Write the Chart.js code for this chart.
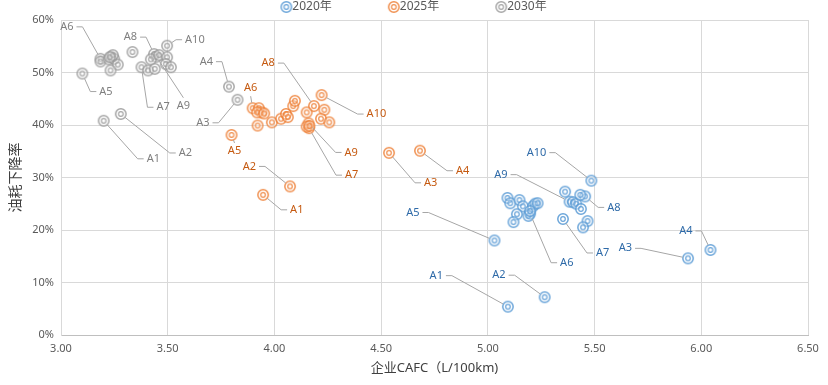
<!DOCTYPE html>
<html>
<head>
<meta charset="utf-8">
<script src="https://cdn.jsdelivr.net/npm/chart.js@4.4.1/dist/chart.umd.min.js"></script>
<style>
  html,body{margin:0;padding:0;background:#fff;}
  #wrap{width:828px;height:385px;position:relative;}
</style>
</head>
<body>
<div id="wrap"><canvas id="c" width="828" height="385"></canvas></div>
<script>
// ---- data ----
const seriesNames = ['2020年', '2025年', '2030年'];
const labelNames = ['A1','A2','A3','A4','A5','A6','A7','A8','A9','A10'];
const xTitle = '企业CAFC（L/100km)';
const yTitle = '油耗下降率';

// first ten points of each series are A1..A10
const cafc2020 = [5.094,5.266,5.938,6.043,5.031,5.198,5.352,5.456,5.383,5.485,
                  5.092,5.105,5.148,5.164,5.136,5.120,5.190,5.211,5.222,5.233,5.198,5.362,5.399,5.414,5.433,5.436,5.467,5.446];
const drop2020 = [5.4,7.2,14.6,16.2,18.0,23.1,22.1,26.4,25.4,29.4,
                  26.1,25.1,25.7,24.5,23.0,21.5,22.7,24.5,25.0,25.1,23.6,27.3,25.3,25.0,26.7,24.0,21.7,20.5];

const cafc2025 = [3.947,4.073,4.537,4.682,3.799,3.898,4.162,4.185,4.160,4.221,
                  3.927,3.940,3.919,3.952,3.921,3.988,4.031,4.054,4.063,4.088,4.096,4.151,4.234,4.218,4.257,4.151,4.164];
const drop2025 = [26.7,28.3,34.7,35.1,38.1,43.2,39.4,43.6,40.3,45.7,
                  43.2,42.4,42.4,42.2,39.9,40.5,41.2,42.1,41.5,43.6,44.6,42.4,42.9,41.2,40.5,39.7,39.8];

const cafc2030 = [3.200,3.280,3.827,3.787,3.100,3.185,3.377,3.436,3.447,3.497,
                  3.185,3.236,3.224,3.249,3.243,3.228,3.266,3.232,3.335,3.408,3.439,3.421,3.460,3.497,3.491,3.515];
const drop2030 = [40.8,42.1,44.8,47.3,49.8,52.6,51.0,53.5,53.0,55.1,
                  52.1,53.0,52.5,52.6,53.3,52.9,51.5,50.4,53.9,50.4,50.7,52.5,53.3,52.9,51.6,51.0];

// ---- label leader offsets (pixels from point to elbow) and text side ----
const labelPos2020 = [[-56,-31,'l'],[-30,-22,'l'],[-47,-10,'l'],[-9,-19,'l'],[-66,-28,'l'],[21,49,'r'],[24,34,'r'],[13,11,'r'],[-53,-27,'l'],[-36,-28,'l']];
const labelPos2025 = [[18,15,'r'],[-25,-20,'l'],[26,30,'r'],[27,20,'r'],[3,8,'b'],[-2,-12,'t'],[27,47,'r'],[-30,-43,'l'],[27,29,'r'],[36,19,'r']];
const labelPos2030 = [[34,38,'r'],[49,39,'r'],[-19,23,'l'],[-7,-25,'l'],[8,18,'r'],[-18,-32,'l'],[6,40,'r'],[-8,-17,'l'],[27,41,'b'],[9,-6,'r']];

// ---- styles ----
const markerColors = ['rgba(91,155,213,0.9)', 'rgba(237,125,49,0.85)', 'rgba(150,150,150,0.85)'];
const textColors = ['#2e6aa8', '#c55a11', '#7f7f7f'];
const FONT = "'Noto Sans', 'Noto Sans CJK SC', sans-serif";

function ring(color) {
  const c = document.createElement('canvas');
  c.width = 14; c.height = 14;
  const g = c.getContext('2d');
  g.strokeStyle = color;
  g.fillStyle = 'rgba(255,255,255,0.35)';
  g.lineWidth = 1.5;
  g.beginPath(); g.arc(7, 7, 5.2, 0, Math.PI * 2); g.fill(); g.stroke();
  g.lineWidth = 1.2;
  g.beginPath(); g.arc(7, 7, 2.3, 0, Math.PI * 2); g.stroke();
  return c;
}
const rings = markerColors.map(ring);

function pts(xs, ys) { return xs.map((x, i) => ({x: x, y: ys[i]})); }

const allPos = [labelPos2020, labelPos2025, labelPos2030];

const labelPlugin = {
  id: 'leaderLabels',
  afterDatasetsDraw(chart) {
    const ctx = chart.ctx;
    ctx.save();
    ctx.font = '11px ' + FONT;
    chart.data.datasets.forEach((ds, di) => {
      const meta = chart.getDatasetMeta(di);
      const pos = allPos[di];
      labelNames.forEach((name, k) => {
        const el = meta.data[k];
        if (!el) return;
        const px = el.x, py = el.y;
        const [dx, dy, mode] = pos[k];
        const ex = px + dx, ey = py + dy;
        const len = Math.hypot(dx, dy);
        const sx = px + dx / len * 5.5, sy = py + dy / len * 5.5;
        ctx.strokeStyle = '#a6a6a6';
        ctx.lineWidth = 1;
        ctx.beginPath();
        ctx.moveTo(sx, sy);
        ctx.lineTo(ex, ey);
        let tx, ty, align;
        if (mode === 'l') {
          ctx.lineTo(ex - 6, ey);
          tx = ex - 9; ty = ey; align = 'right';
        } else if (mode === 'r') {
          ctx.lineTo(ex + 6, ey);
          tx = ex + 9; ty = ey; align = 'left';
        } else if (mode === 'b') {
          tx = ex; ty = ey + 8; align = 'center';
        } else {
          tx = ex; ty = ey - 8; align = 'center';
        }
        ctx.stroke();
        ctx.fillStyle = textColors[di];
        ctx.textAlign = align;
        ctx.textBaseline = 'middle';
        ctx.fillText(name, tx, ty);
      });
    });
    ctx.restore();
  }
};

const legendPlugin = {
  id: 'topLegend',
  afterDraw(chart) {
    const ctx = chart.ctx;
    ctx.save();
    ctx.font = '12px ' + FONT;
    const gap = 57;
    const widths = seriesNames.map(n => 11 + ctx.measureText(n).width);
    const total = widths.reduce((a, b) => a + b, 0) + gap * (seriesNames.length - 1);
    let x = chart.width / 2 - total / 2;
    const y = 7;
    seriesNames.forEach((n, i) => {
      ctx.drawImage(rings[i], x - 2, y - 7);
      ctx.fillStyle = '#595959';
      ctx.textAlign = 'left';
      ctx.textBaseline = 'middle';
      ctx.fillText(n, x + 11, y);
      x += widths[i] + gap;
    });
    ctx.restore();
  }
};

const datasets = [
  {label: seriesNames[0], data: pts(cafc2020, drop2020)},
  {label: seriesNames[1], data: pts(cafc2025, drop2025)},
  {label: seriesNames[2], data: pts(cafc2030, drop2030)}
].map((d, i) => Object.assign(d, {
  pointStyle: rings[i],
  pointRadius: 6,
  borderColor: markerColors[i],
  backgroundColor: markerColors[i],
  showLine: false
}));

new Chart(document.getElementById('c'), {
  type: 'scatter',
  data: {datasets},
  plugins: [labelPlugin, legendPlugin],
  options: {
    responsive: false,
    animation: false,
    events: [],
    layout: {padding: {top: 20, right: 20, left: 0, bottom: 0}},
    plugins: {legend: {display: false}, tooltip: {enabled: false}},
    scales: {
      x: {
        type: 'linear', min: 3, max: 6.5,
        afterFit(s) { s.height = 50; },
        ticks: {stepSize: 0.5, padding: 7, color: '#595959', font: {size: 11, family: FONT},
                callback: v => v.toFixed(2)},
        grid: {color: '#d9d9d9', drawTicks: false},
        border: {color: '#bfbfbf'},
        title: {display: true, text: xTitle, color: '#404040', font: {size: 13, family: FONT},
                padding: {top: 0, bottom: 9}}
      },
      y: {
        min: 0, max: 60,
        afterFit(s) { s.width = 61; },
        ticks: {stepSize: 10, padding: 7, color: '#595959', font: {size: 11, family: FONT},
                callback: v => v + '%'},
        grid: {color: '#d9d9d9', drawTicks: false},
        border: {color: '#d9d9d9'},
        title: {display: true, text: yTitle, color: '#404040', font: {size: 14, family: FONT},
                padding: {top: 8, bottom: 0}}
      }
    }
  }
});
</script>
</body>
</html>
